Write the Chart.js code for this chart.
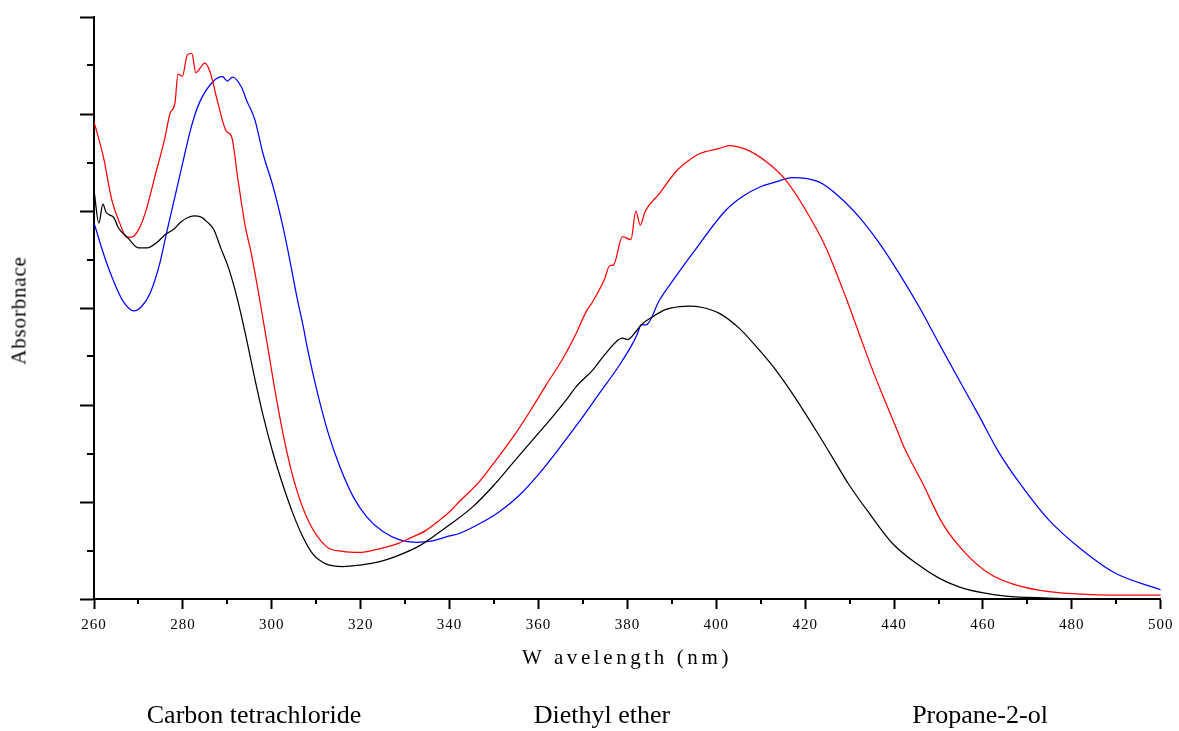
<!DOCTYPE html>
<html>
<head>
<meta charset="utf-8">
<script src="https://cdn.jsdelivr.net/npm/chart.js@4.4.1/dist/chart.umd.min.js"></script>
<style>
  html, body { margin: 0; padding: 0; background: #fff; }
  #wrap { position: relative; width: 1179px; height: 731px; overflow: hidden; font-family: 'Liberation Serif', 'Times New Roman', serif; color: #000; }
  #c { position: absolute; left: 0; top: 0; }
  .txt { position: absolute; white-space: pre; font-family: 'Liberation Serif', 'Times New Roman', serif; color: #000; }
  .leg { font-size: 26px; line-height: 26px; width: 400px; text-align: center; top: 702px; }
</style>
</head>
<body>
<div id="wrap">
  <canvas id="c" width="1179" height="731"></canvas>
  <div class="txt" id="xtitle" style="left:522px; top:647px; font-size:21px; line-height:21px; letter-spacing:3.6px;">W avelength (nm)</div>
  <div class="txt" id="ytitle" style="left:-81px; top:300px; width:200px; text-align:center; font-size:21px; line-height:21px; letter-spacing:0.8px; transform:rotate(-90deg);">Absorbnace</div>
  <div class="txt leg" style="left:54px;">Carbon tetrachloride</div>
  <div class="txt leg" style="left:402px;">Diethyl ether</div>
  <div class="txt leg" style="left:780px;">Propane-2-ol</div>
</div>
<script>
// ---- Data ----
const ccl4Wl  = [260.0,261.1,262.0,262.7,263.5,264.5,265.5,267.5,270.0,272.0,274.0,276.0,278.0,279.5,281.0,282.5,284.0,285.5,287.0,288.5,290.0,291.5,293.0,294.5,296.0,298.0,300.3,302.5,304.8,307.0,309.3,312.3,316.0,319.8,324.3,328.8,333.3,336.2,340.0,345.2,349.7,354.2,358.7,363.2,366.2,368.5,372.2,375.2,378.9,380.1,381.9,383.1,385.7,388.7,391.7,393.9,396.9,400.7,405.2,409.7,413.4,417.1,422.4,426.0,429.9,434.4,439.6,444.9,450.1,454.6,459.8,465.1,474.8,482.2,500.0];
const ccl4Abs = [0.843,0.775,0.814,0.798,0.792,0.786,0.765,0.746,0.724,0.724,0.734,0.751,0.763,0.777,0.786,0.790,0.788,0.777,0.761,0.724,0.690,0.645,0.590,0.528,0.462,0.380,0.300,0.235,0.175,0.128,0.092,0.072,0.067,0.070,0.077,0.091,0.110,0.128,0.153,0.190,0.232,0.280,0.328,0.376,0.410,0.438,0.472,0.507,0.538,0.535,0.551,0.565,0.582,0.597,0.603,0.604,0.601,0.589,0.558,0.513,0.472,0.424,0.348,0.294,0.235,0.177,0.115,0.074,0.043,0.025,0.013,0.006,0.002,0.000,0.000];

const etherWl  = [260.0,262.1,264.0,265.8,267.3,268.5,270.0,271.5,273.7,276.0,277.1,278.2,278.9,279.9,281.0,282.0,282.9,284.9,286.1,287.9,289.8,290.9,292.4,294.0,295.3,297.3,299.2,301.1,303.3,305.6,308.5,312.3,316.0,319.8,323.5,328.0,331.0,334.8,337.8,340.0,342.2,346.7,350.5,354.9,358.7,361.7,365.5,368.5,370.7,372.2,374.8,376.0,376.9,378.9,380.8,381.9,382.9,384.0,387.2,390.9,393.5,396.2,400.7,402.9,406.7,411.2,415.6,420.1,424.6,429.1,432.1,435.0,437.8,440.7,442.2,446.4,450.9,456.1,461.3,467.3,474.8,482.3,489.8,500.0];
const etherAbs = [0.984,0.912,0.823,0.775,0.746,0.746,0.761,0.795,0.871,0.953,1.001,1.022,1.082,1.078,1.122,1.125,1.085,1.105,1.087,1.022,0.964,0.955,0.864,0.770,0.716,0.616,0.513,0.410,0.307,0.225,0.156,0.108,0.098,0.096,0.102,0.113,0.125,0.142,0.163,0.180,0.201,0.242,0.287,0.342,0.396,0.441,0.496,0.548,0.592,0.613,0.658,0.687,0.689,0.747,0.741,0.800,0.771,0.799,0.836,0.881,0.902,0.918,0.929,0.935,0.927,0.902,0.864,0.802,0.726,0.623,0.548,0.476,0.412,0.348,0.314,0.239,0.156,0.094,0.053,0.029,0.015,0.010,0.008,0.008];

const propWl  = [260.0,262.1,264.3,266.6,269.0,270.7,272.6,274.8,276.3,278.2,280.1,282.0,283.8,286.8,288.9,290.0,291.2,293.2,294.3,296.2,298.0,300.3,302.5,303.6,304.7,305.8,307.0,308.1,310.3,312.7,315.3,318.3,321.3,325.0,328.8,332.5,336.2,340.0,342.2,346.7,351.2,355.7,360.2,364.7,369.2,373.7,378.2,381.2,382.3,383.1,384.2,387.2,390.9,394.7,402.2,405.9,409.7,413.4,417.1,423.1,427.6,432.1,436.6,441.1,445.6,450.1,454.6,459.1,463.4,468.8,474.8,482.3,489.8,500.0];
const propAbs = [0.776,0.713,0.658,0.613,0.594,0.603,0.630,0.692,0.754,0.829,0.905,0.977,1.025,1.067,1.077,1.068,1.076,1.055,1.029,0.988,0.919,0.850,0.768,0.720,0.668,0.616,0.565,0.513,0.424,0.342,0.273,0.211,0.170,0.139,0.122,0.117,0.120,0.130,0.135,0.155,0.180,0.214,0.259,0.311,0.366,0.424,0.482,0.527,0.548,0.565,0.565,0.616,0.665,0.713,0.802,0.830,0.849,0.860,0.869,0.860,0.830,0.788,0.735,0.672,0.603,0.527,0.452,0.378,0.305,0.232,0.163,0.101,0.053,0.019];

const seriesNames  = ['Carbon tetrachloride', 'Diethyl ether', 'Propane-2-ol'];
const seriesColors = ['#000000', '#ff0000', '#0000ff'];
const xTickMin = 260, xTickMax = 500, xTickStep = 20;
const yTickMin = 0, yTickMax = 1.2, yTickStep = 0.2;
const xMinorTicks = [270, 290, 310, 330, 350, 370, 390, 410, 430, 450, 470, 490];
const yMinorTicks = [0.1, 0.3, 0.5, 0.7, 0.9, 1.1];

// ---- Build datasets ----
function pts(xs, ys) { return xs.map((x, i) => ({ x: x, y: ys[i] })); }
const datasets = [
  { label: seriesNames[0], data: pts(ccl4Wl, ccl4Abs), borderColor: seriesColors[0] },
  { label: seriesNames[1], data: pts(etherWl, etherAbs), borderColor: seriesColors[1] },
  { label: seriesNames[2], data: pts(propWl, propAbs), borderColor: seriesColors[2] }
].map(d => Object.assign(d, { borderWidth: 1.25, pointRadius: 0, fill: false, cubicInterpolationMode: 'monotone' }));

const serif = "'Liberation Serif', 'Times New Roman', serif";

const minorTickPlugin = {
  id: 'minorTicks',
  beforeDraw(chart) { chart.ctx.letterSpacing = '1px'; },
  afterDraw(chart) {
    const ctx = chart.ctx, xs = chart.scales.x, ys = chart.scales.y;
    ctx.save();
    ctx.strokeStyle = '#000';
    ctx.lineWidth = 2;
    ctx.beginPath();
    xMinorTicks.forEach(v => {
      const px = Math.round(xs.getPixelForValue(v));
      ctx.moveTo(px, ys.bottom);
      ctx.lineTo(px, ys.bottom + 5);
    });
    yMinorTicks.forEach(v => {
      const py = Math.round(ys.getPixelForValue(v));
      ctx.moveTo(xs.left - 7, py);
      ctx.lineTo(xs.left, py);
    });
    ctx.stroke();
    ctx.restore();
  }
};

new Chart(document.getElementById('c'), {
  type: 'line',
  data: { datasets: datasets },
  options: {
    responsive: false,
    devicePixelRatio: 1,
    animation: false,
    layout: { padding: { top: 17, right: 17, left: 0, bottom: 0 } },
    plugins: { legend: { display: false }, tooltip: { enabled: false } },
    scales: {
      x: {
        type: 'linear',
        min: xTickMin, max: xTickMax,
        afterFit(scale) { scale.height = 132; },
        ticks: { stepSize: xTickStep, color: '#000', padding: 7, maxRotation: 0, autoSkip: false,
                 font: { family: serif, size: 15 } },
        grid: { drawOnChartArea: false, drawTicks: true, tickLength: 10, tickWidth: 2, tickColor: '#000' },
        border: { display: true, color: '#000', width: 2 },
        title: { display: false }
      },
      y: {
        type: 'linear',
        min: yTickMin, max: yTickMax,
        afterFit(scale) { scale.width = 94; },
        ticks: { stepSize: yTickStep, display: false },
        grid: { drawOnChartArea: false, drawTicks: true, tickLength: 14, tickWidth: 2, tickColor: '#000' },
        border: { display: true, color: '#000', width: 2 },
        title: { display: false }
      }
    }
  },
  plugins: [minorTickPlugin]
});
</script>
</body>
</html>
